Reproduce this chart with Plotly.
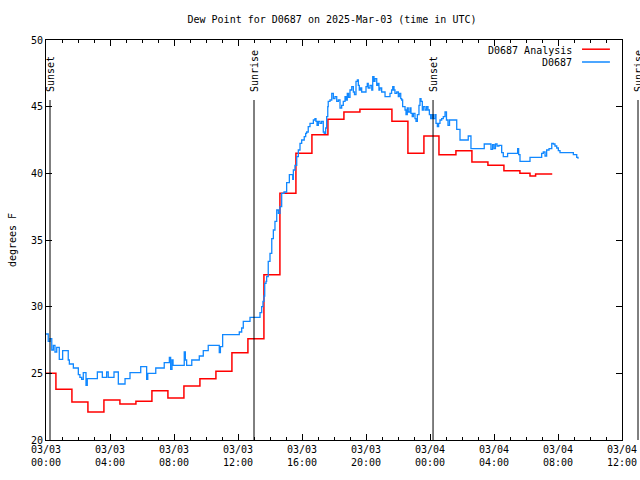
import pandas as pd
import plotly.graph_objects as go

# ---------------- data ----------------
base_time = pd.Timestamp("2025-03-03 00:00")
x_start = pd.Timestamp("2025-03-03 00:00")
x_end = pd.Timestamp("2025-03-04 12:00")

# D0687 Analysis (hours after 2025-03-03 00:00 UTC, deg F)
analysis_hours = [0.0, 0.62, 1.62, 2.62, 3.62, 4.62, 5.62, 6.62, 7.62, 8.62,
                  9.62, 10.62, 11.62, 12.62, 13.62, 14.62, 15.62, 16.62, 17.62, 18.62,
                  19.62, 21.62, 22.62, 23.62, 24.56, 25.62, 26.62, 27.62, 28.62, 29.62,
                  30.25, 30.6, 31.64]
analysis_values = [25.0, 23.8, 22.85, 22.1, 23.0, 22.7, 22.9, 23.7, 23.15, 24.05,
                   24.6, 25.15, 26.55, 27.6, 32.4, 38.5, 41.5, 42.9, 44.05, 44.6,
                   44.8, 43.9, 41.5, 42.8, 41.4, 41.7, 40.85, 40.6, 40.2, 40.0,
                   39.8, 39.95, 39.95]

# D0687 observations
obs_hours = [0.0, 0.14, 0.25, 0.36, 0.46, 0.56, 0.67, 0.83, 1.04, 1.39,
             1.46, 1.71, 2.02, 2.12, 2.23, 2.33, 2.5, 2.58, 3.21, 3.52,
             3.79, 3.89, 4.25, 4.52, 4.94, 5.25, 5.92, 6.29, 6.36, 6.86,
             7.39, 7.71, 7.79, 7.875, 7.94, 8.64, 8.71, 8.79, 9.11, 9.58,
             9.83, 10.14, 10.83, 10.9, 11.04, 12.08, 12.23, 12.33, 12.75, 13.375,
             13.48, 13.56, 13.625, 13.67, 13.75, 13.79, 13.89, 14.0, 14.11, 14.21,
             14.31, 14.42, 14.52, 14.625, 14.73, 14.875, 15.04, 15.21, 15.42, 15.46,
             15.56, 15.67, 15.77, 15.875, 15.98, 16.14, 16.23, 16.29, 16.39, 16.5,
             16.71, 16.81, 16.875, 16.94, 17.02, 17.125, 17.23, 17.33, 17.39, 17.48,
             17.54, 17.61, 17.64, 17.75, 17.86, 17.96, 18.06, 18.17, 18.27, 18.375,
             18.48, 18.58, 18.69, 18.75, 18.83, 18.91, 19.0, 19.11, 19.21, 19.28,
             19.375, 19.46, 19.52, 19.58, 19.66, 19.73, 20.0, 20.08, 20.14, 20.25,
             20.36, 20.42, 20.5, 20.56, 20.67, 20.73, 20.81, 20.875, 20.98, 21.19,
             21.5, 21.6, 21.67, 21.75, 21.81, 21.92, 22.02, 22.08, 22.17, 22.23,
             22.29, 22.44, 22.5, 22.58, 22.64, 22.75, 22.81, 22.89, 22.96, 23.06,
             23.125, 23.21, 23.31, 23.375, 23.44, 23.52, 23.58, 23.69, 23.79, 23.875,
             23.96, 24.04, 24.125, 24.21, 24.31, 24.375, 24.46, 24.54, 24.625, 24.73,
             24.83, 24.94, 25.03, 25.125, 25.22, 25.67, 25.875, 26.39, 26.56, 27.39,
             27.81, 27.91, 28.0, 28.09, 28.19, 28.31, 28.48, 28.58, 28.85, 29.48,
             29.54, 29.625, 30.25, 30.98, 31.08, 31.19, 31.29, 31.44, 31.61, 31.71,
             31.81, 31.92, 32.02, 32.125, 32.96, 33.17, 33.25]
obs_values = [27.95, 27.4, 27.6, 26.75, 27.1, 26.6, 26.95, 26.05, 26.7, 26.0,
              25.7, 25.4, 24.9, 24.7, 24.55, 25.05, 24.1, 24.6, 25.1, 24.7,
              25.1, 24.7, 25.1, 24.2, 24.6, 25.05, 25.5, 24.55, 25.0, 25.4,
              25.8, 26.2, 25.3, 26.0, 25.6, 26.6, 26.0, 25.6, 26.0, 26.3,
              26.7, 27.1, 26.55, 27.0, 27.9, 28.1, 28.4, 28.9, 29.2, 29.55,
              30.0, 30.4, 30.8, 31.75, 31.9, 32.25, 33.4, 34.0, 35.1, 35.75,
              36.4, 37.25, 37.0, 37.5, 38.5, 38.6, 39.3, 39.9, 39.55, 40.25,
              40.6, 41.25, 41.75, 42.25, 42.5, 42.75, 43.0, 43.1, 43.5, 43.75,
              44.0, 44.1, 43.9, 43.6, 43.9, 43.75, 43.9, 43.1, 43.0, 43.4,
              44.25, 45.0, 45.4, 45.5, 46.0, 45.6, 45.75, 45.4, 45.5, 44.9,
              45.1, 45.4, 45.75, 45.5, 46.0, 45.7, 46.25, 46.5, 46.1, 45.9,
              46.9, 47.0, 46.6, 46.25, 46.4, 46.1, 46.5, 46.75, 46.4, 46.6,
              46.25, 47.25, 46.9, 47.1, 46.6, 46.75, 46.25, 46.4, 46.1, 45.75,
              46.0, 46.25, 46.5, 46.25, 46.0, 46.1, 45.75, 46.0, 45.6, 45.5,
              45.0, 44.75, 44.4, 44.9, 44.6, 44.9, 44.5, 44.25, 44.5, 44.1,
              43.9, 44.4, 45.1, 45.6, 45.4, 44.75, 45.0, 44.75, 45.0, 44.75,
              44.4, 44.1, 44.4, 44.1, 44.4, 43.75, 43.5, 43.75, 44.0, 44.1,
              44.25, 44.6, 44.0, 43.6, 44.0, 43.3, 42.5, 42.8, 41.85, 42.2,
              41.8, 42.15, 41.85, 42.2, 42.05, 42.1, 41.55, 41.25, 41.5, 41.85,
              41.4, 40.9, 41.2, 41.5, 41.6, 41.3, 41.75, 41.85, 42.25, 42.2,
              42.05, 41.9, 41.7, 41.55, 41.4, 41.2, 41.1]

# Sunrise / sunset events (hours after 2025-03-03 00:00 UTC)
event_hours = [0.25, 13.0, 24.19, 37.0]
event_labels = ["Sunset", "Sunrise", "Sunset", "Sunrise"]

series_names = ["D0687 Analysis", "D0687"]
series_colors = ["#ff0000", "#1188ff"]

title_text = "Dew Point for D0687 on 2025-Mar-03 (time in UTC)"
y_title = "degrees F"

FONT = "DejaVu Sans Mono"


def to_times(hours):
    return [base_time + pd.Timedelta(hours=h) for h in hours]


fig = go.Figure()
fig.add_trace(go.Scatter(x=to_times(analysis_hours), y=analysis_values, mode="lines",
                         line=dict(color=series_colors[0], width=1.5, shape="hv"),
                         name=series_names[0]))
fig.add_trace(go.Scatter(x=to_times(obs_hours), y=obs_values, mode="lines",
                         line=dict(color=series_colors[1], width=1.3, shape="hv"),
                         name=series_names[1]))

span_h = (x_end - x_start) / pd.Timedelta(hours=1)
shapes = []
annotations = []
for h, lab in zip(event_hours, event_labels):
    px = h / span_h
    shapes.append(dict(type="line", xref="paper", yref="paper", x0=px, x1=px,
                       y0=0, y1=0.85, line=dict(color="black", width=1)))
    annotations.append(dict(text=lab, xref="paper", yref="paper", x=px, y=0.865,
                            textangle=-90, xanchor="center", yanchor="bottom",
                            showarrow=False, font=dict(family=FONT, size=10, color="black")))

# custom legend (text left of line sample, as in the original)
legend_rows = [0.975, 0.943]
for name, col, ly in zip(series_names, series_colors, legend_rows):
    annotations.append(dict(text=name, xref="paper", yref="paper", x=0.917, y=ly,
                            xanchor="right", yanchor="middle", showarrow=False,
                            font=dict(family=FONT, size=10, color="black")))
    shapes.append(dict(type="line", xref="paper", yref="paper", x0=0.9306, x1=0.979,
                       y0=ly + 0.002, y1=ly + 0.002, line=dict(color=col, width=1.5)))

fig.update_layout(
    width=640, height=480,
    margin=dict(l=46, r=18, t=40, b=40),
    paper_bgcolor="white", plot_bgcolor="white",
    showlegend=False,
    font=dict(family=FONT, size=10, color="black"),
    title=dict(text=title_text, x=332 / 640, xref="container", xanchor="center",
               y=1 - 19 / 480, yref="container", yanchor="middle",
               font=dict(family=FONT, size=10, color="black")),
    shapes=shapes,
    annotations=annotations,
)

fig.update_xaxes(
    type="date", range=[x_start, x_end], automargin=False,
    tick0=x_start, dtick=4 * 3600 * 1000,
    tickformat="%m/%d<br>%H:%M",
    ticks="inside", ticklen=6, tickcolor="black", tickwidth=1,
    showline=True, linecolor="black", linewidth=1, mirror="allticks",
    showgrid=False, zeroline=False,
    minor=dict(dtick=3600 * 1000, ticks="inside", ticklen=3, tickcolor="black", showgrid=False),
    tickfont=dict(family=FONT, size=10, color="black"),
)
fig.update_yaxes(
    range=[20, 50], dtick=5, tick0=20, automargin=False,
    ticks="inside", ticklen=6, tickcolor="black", tickwidth=1,
    showline=True, linecolor="black", linewidth=1, mirror="allticks",
    showgrid=False, zeroline=False,
    tickfont=dict(family=FONT, size=10, color="black"),
    title=dict(text=y_title, standoff=12, font=dict(family=FONT, size=10, color="black")),
)

fig.write_html("out.html")
